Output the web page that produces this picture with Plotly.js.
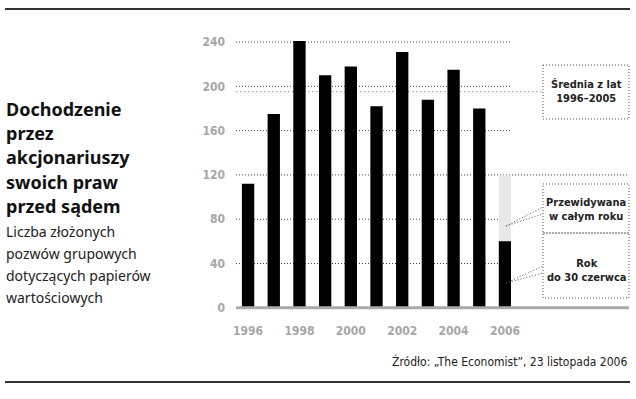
<!DOCTYPE html>
<html>
<head>
<meta charset="utf-8">
<script src="https://cdn.plot.ly/plotly-3.0.1.min.js"></script>
<style>html,body{margin:0;padding:0;background:#fff;}#chart{width:636px;height:399px;}</style>
</head>
<body>
<div id="chart"></div>
<script>
// ---- data ----
const years = [1996, 1997, 1998, 1999, 2000, 2001, 2002, 2003, 2004, 2005, 2006];
const filed = [112, 175, 241, 210, 218, 182, 231, 188, 215, 180, 60];
const predictedYears = [2006];
const predicted = [120];
const yTicks = [0, 40, 80, 120, 160, 200, 240];
const xTicks = [1996, 1998, 2000, 2002, 2004, 2006];
const titleLines = ["Dochodzenie", "przez", "akcjonariuszy", "swoich praw", "przed sądem"];
const subtitleLines = ["Liczba złożonych", "pozwów grupowych", "dotyczących papierów", "wartościowych"];
const avgLabel = "Średnia z lat<br>1996–2005";
const predLabel = "Przewidywana<br>w całym roku";
const actualLabel = "Rok<br>do 30 czerwca";
const sourceText = "Źródło: „The Economist”, 23 listopada 2006";

// average of 1996–2005
const hist = filed.slice(0, 10);
const avg = hist.reduce((a, b) => a + b, 0) / hist.length;

// ---- layout geometry ----
const W = 636, H = 399;
const M = {l: 236, r: 125, t: 31, b: 89};
const PW = W - M.l - M.r, PH = H - M.t - M.b;
const YR = [-2, 250];
const XR = [1995.53, 2006.235];
const px = p => (p - M.l) / PW;
const py = p => (H - M.b - p) / PH;
const yv = v => (v - YR[0]) / (YR[1] - YR[0]);

const narrow = "Liberation Sans Narrow, DejaVu Sans Condensed, Arial Narrow, sans-serif";
const sans = "Noto Sans, Open Sans, DejaVu Sans, sans-serif";

const shapes = [];
const annotations = [];

// frame lines
shapes.push({type: 'line', xref: 'paper', yref: 'paper', x0: px(5), x1: px(630), y0: py(9), y1: py(9), line: {color: '#333', width: 2}});
shapes.push({type: 'line', xref: 'paper', yref: 'paper', x0: px(5), x1: px(630), y0: py(382), y1: py(382), line: {color: '#333', width: 2}});

// gridlines
yTicks.filter(v => v > 0).forEach(v => {
  shapes.push({type: 'line', layer: 'below', xref: 'paper', yref: 'paper', x0: px(236), x1: v === 120 ? px(629) : px(511),
    y0: yv(v), y1: yv(v), line: {color: '#444', width: 1, dash: '1px,2px'}});
});
// average line
shapes.push({type: 'line', layer: 'below', xref: 'paper', yref: 'paper', x0: px(236), x1: px(543), y0: yv(avg), y1: yv(avg),
  line: {color: '#999', width: 1, dash: '1.5px,2.5px'}});
// baseline
shapes.push({type: 'line', layer: 'above', xref: 'paper', yref: 'paper', x0: px(236), x1: px(629), y0: yv(0), y1: yv(0),
  line: {color: '#aaa', width: 3}});

// boxes
const boxLine = {color: '#555', width: 1, dash: '1px,2px'};
shapes.push({type: 'rect', xref: 'paper', yref: 'paper', x0: px(543), x1: px(629), y0: py(65), y1: py(119), line: boxLine});
shapes.push({type: 'rect', xref: 'paper', yref: 'paper', x0: px(543), x1: px(629), y0: py(184), y1: py(233), line: boxLine});
shapes.push({type: 'rect', xref: 'paper', yref: 'paper', x0: px(543), x1: px(629), y0: py(233), y1: py(298), line: boxLine});

// leader lines
const leadLine = {color: '#555', width: 1, dash: '1px,2px'};
[[226, 207], [226, 214], [283, 266], [283, 273]].forEach(([a, b]) => {
  shapes.push({type: 'line', xref: 'paper', yref: 'paper', x0: px(506), y0: py(a), x1: px(543), y1: py(b), line: leadLine});
});

// box labels
const boxFont = {family: narrow, size: 11, color: '#222', weight: 'bold'};
[[avgLabel, 92], [predLabel, 209], [actualLabel, 270]].forEach(([t, y]) => {
  annotations.push({xref: 'paper', yref: 'paper', x: px(586), y: py(y), text: t, showarrow: false,
    xanchor: 'center', yanchor: 'middle', align: 'center', font: boxFont});
});

// title
titleLines.forEach((t, i) => {
  annotations.push({xref: 'paper', yref: 'paper', x: px(4), y: py(109 + i * 24.2), text: t, showarrow: false,
    xanchor: 'left', yanchor: 'middle', align: 'left', font: {family: sans, size: 18, color: '#111', weight: 'bold'}});
});
subtitleLines.forEach((t, i) => {
  annotations.push({xref: 'paper', yref: 'paper', x: px(4), y: py(231 + i * 22), text: t, showarrow: false,
    xanchor: 'left', yanchor: 'middle', align: 'left', font: {family: sans, size: 14, color: '#222'}});
});
// source
annotations.push({xref: 'paper', yref: 'paper', x: px(629), y: py(361), text: sourceText, showarrow: false,
  xanchor: 'right', yanchor: 'middle', font: {family: narrow, size: 12, color: '#222'}});

const traces = [
  {type: 'bar', x: predictedYears, y: predicted, marker: {color: '#e8e8e8', line: {width: 0}}, width: 0.48, hoverinfo: 'skip'},
  {type: 'bar', x: years, y: filed, marker: {color: '#000', line: {width: 0}}, width: 0.48, hoverinfo: 'skip'}
];

const layout = {
  width: W, height: H,
  margin: M,
  paper_bgcolor: '#fff', plot_bgcolor: 'rgba(0,0,0,0)',
  barmode: 'overlay',
  showlegend: false,
  xaxis: {range: XR, tickvals: xTicks, ticktext: xTicks.map(String), showgrid: false, zeroline: false, showline: false,
    ticks: '', ticklabelstandoff: 12, tickfont: {family: narrow, size: 12, color: '#a6a6a6', weight: 'bold'}, fixedrange: true},
  yaxis: {range: YR, tickvals: yTicks, ticktext: yTicks.map(String), showgrid: false, zeroline: false, showline: false,
    ticks: '', ticklabelstandoff: 10, tickfont: {family: narrow, size: 12, color: '#a6a6a6', weight: 'bold'}, fixedrange: true},
  shapes: shapes,
  annotations: annotations
};

Plotly.newPlot('chart', traces, layout, {displayModeBar: false, staticPlot: true});
</script>
</body>
</html>
